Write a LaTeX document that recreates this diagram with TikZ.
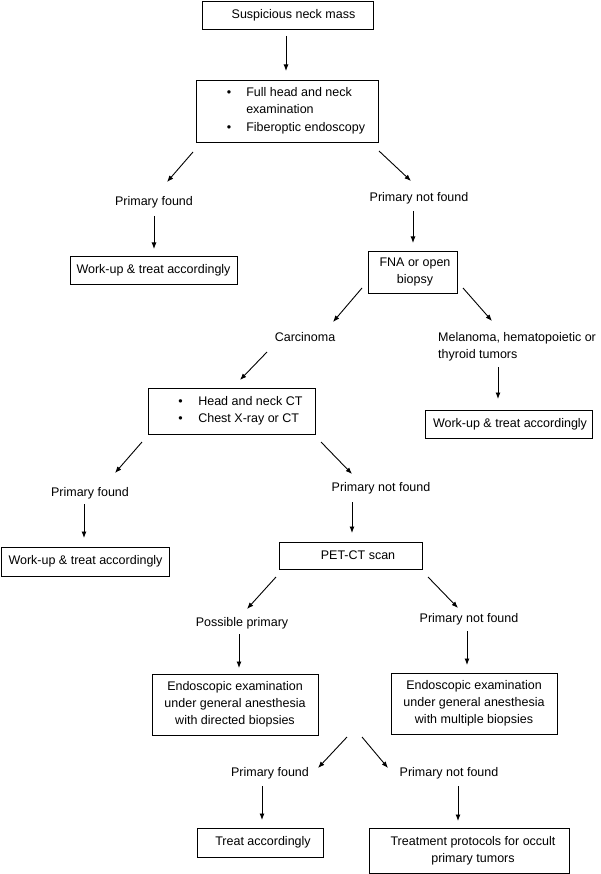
\documentclass[tikz,border=0pt]{standalone}
\usepackage{fontspec}
\setmainfont{Liberation Sans}
\usetikzlibrary{arrows.meta}
\begin{document}
\begin{tikzpicture}[x=1pt,y=-1pt,
  every node/.style={font=\fontsize{12.5}{17}\selectfont, inner sep=0pt},
  box/.style={draw, line width=0.9pt, inner sep=0pt, align=center},
  lbl/.style={text height=9pt, text depth=2.5pt},
  arr/.style={line width=0.9pt, -{Latex[length=6.5pt,width=5pt]}}]
\useasboundingbox (0,0) rectangle (600,874);

% boxes
\node[box, minimum width=171pt, minimum height=28pt] (b1) at (287.5,15) {\hspace{12pt}Suspicious neck mass};
\node[box, minimum width=182pt, minimum height=62pt] (b2) at (287.5,111)
  {\hspace{17pt}\begin{tabular}{@{}l@{\hspace{15pt}}l@{}}\textbullet&Full head and neck\\&examination\\[1pt]\textbullet&Fiberoptic endoscopy\end{tabular}};
\node[box, minimum width=167pt, minimum height=28pt] (wu1) at (153.5,270) {Work-up \& treat accordingly};
\node[box, minimum width=89pt, minimum height=42pt] (fna) at (412.5,272) {\hspace*{5pt}FNA or open\\\hspace*{5pt}biopsy};
\node[box, minimum width=167pt, minimum height=28pt] (wu2) at (508.5,424) {\hspace{3pt}Work-up \& treat accordingly};
\node[box, minimum width=167pt, minimum height=46pt] (ct) at (231.5,411)
  {\hspace{18pt}\begin{tabular}{@{}l@{\hspace{15.5pt}}l@{}}\textbullet&Head and neck CT\\\textbullet&Chest X-ray or CT\end{tabular}};
\node[box, minimum width=168pt, minimum height=29pt] (wu3) at (85.5,561.5) {Work-up \& treat accordingly};
\node[box, minimum width=143pt, minimum height=27pt] (pet) at (350.5,555.5) {\hspace{15pt}PET-CT scan};
\node[box, minimum width=166pt, minimum height=61pt] (en1) at (235,704.5) {Endoscopic examination\\under general anesthesia\\with directed biopsies};
\node[box, minimum width=166pt, minimum height=61pt] (en2) at (474,703.5) {Endoscopic examination\\under general anesthesia\\with multiple biopsies};
\node[box, minimum width=126pt, minimum height=29pt] (tr) at (260,842.5) {\hspace{6pt}Treat accordingly};
\node[box, minimum width=200pt, minimum height=45pt] (tp) at (469,850.5) {\hspace*{8pt}Treatment protocols for occult\\\hspace*{8pt}primary tumors};

% labels
\node[lbl] (pf1) at (154,202) {Primary found};
\node[lbl] (pnf1) at (419,198) {Primary not found};
\node[lbl] (carc) at (305,338) {Carcinoma};
\node[anchor=west, align=left] (mel) at (438,347) {Melanoma, hematopoietic or\\thyroid tumors};
\node[lbl] (pf2) at (90,493) {Primary found};
\node[lbl] (pnf2) at (381,488) {Primary not found};
\node[lbl] (pp) at (242,623) {Possible primary};
\node[lbl] (pnf3) at (469,619) {Primary not found};
\node[lbl] (pf3) at (270,773) {Primary found};
\node[lbl] (pnf4) at (449,773) {Primary not found};

% arrow end points
\coordinate (a1s) at (286,36);  \coordinate (a1e) at (286,71);
\coordinate (a2s) at (193,152); \coordinate (a2e) at (167,182);
\coordinate (a3s) at (379,151); \coordinate (a3e) at (411,181);
\coordinate (a4s) at (154,216); \coordinate (a4e) at (154,249);
\coordinate (a5s) at (413,211); \coordinate (a5e) at (413,243);
\coordinate (a6s) at (362,288); \coordinate (a6e) at (333,322);
\coordinate (a7s) at (463,288); \coordinate (a7e) at (492,321);
\coordinate (a8s) at (267,352); \coordinate (a8e) at (240,380);
\coordinate (a9s) at (498,367); \coordinate (a9e) at (498,399);
\coordinate (a10s) at (142,442); \coordinate (a10e) at (115,473);
\coordinate (a11s) at (321,442); \coordinate (a11e) at (352,474);
\coordinate (a12s) at (84,504); \coordinate (a12e) at (84,538);
\coordinate (a13s) at (352,502); \coordinate (a13e) at (352,533);
\coordinate (a14s) at (276,577); \coordinate (a14e) at (247,609);
\coordinate (a15s) at (428,577); \coordinate (a15e) at (458,608);
\coordinate (a16s) at (239,634); \coordinate (a16e) at (239,668);
\coordinate (a17s) at (467,631); \coordinate (a17e) at (467,665);
\coordinate (a18s) at (347,737); \coordinate (a18e) at (318,768);
\coordinate (a19s) at (362,737); \coordinate (a19e) at (388,768);
\coordinate (a20s) at (262,786); \coordinate (a20e) at (262,820);
\coordinate (a21s) at (458,786); \coordinate (a21e) at (458,821);

\foreach \i in {1,...,21} {\draw[arr] (a\i s) -- (a\i e);}
\end{tikzpicture}
\end{document}
